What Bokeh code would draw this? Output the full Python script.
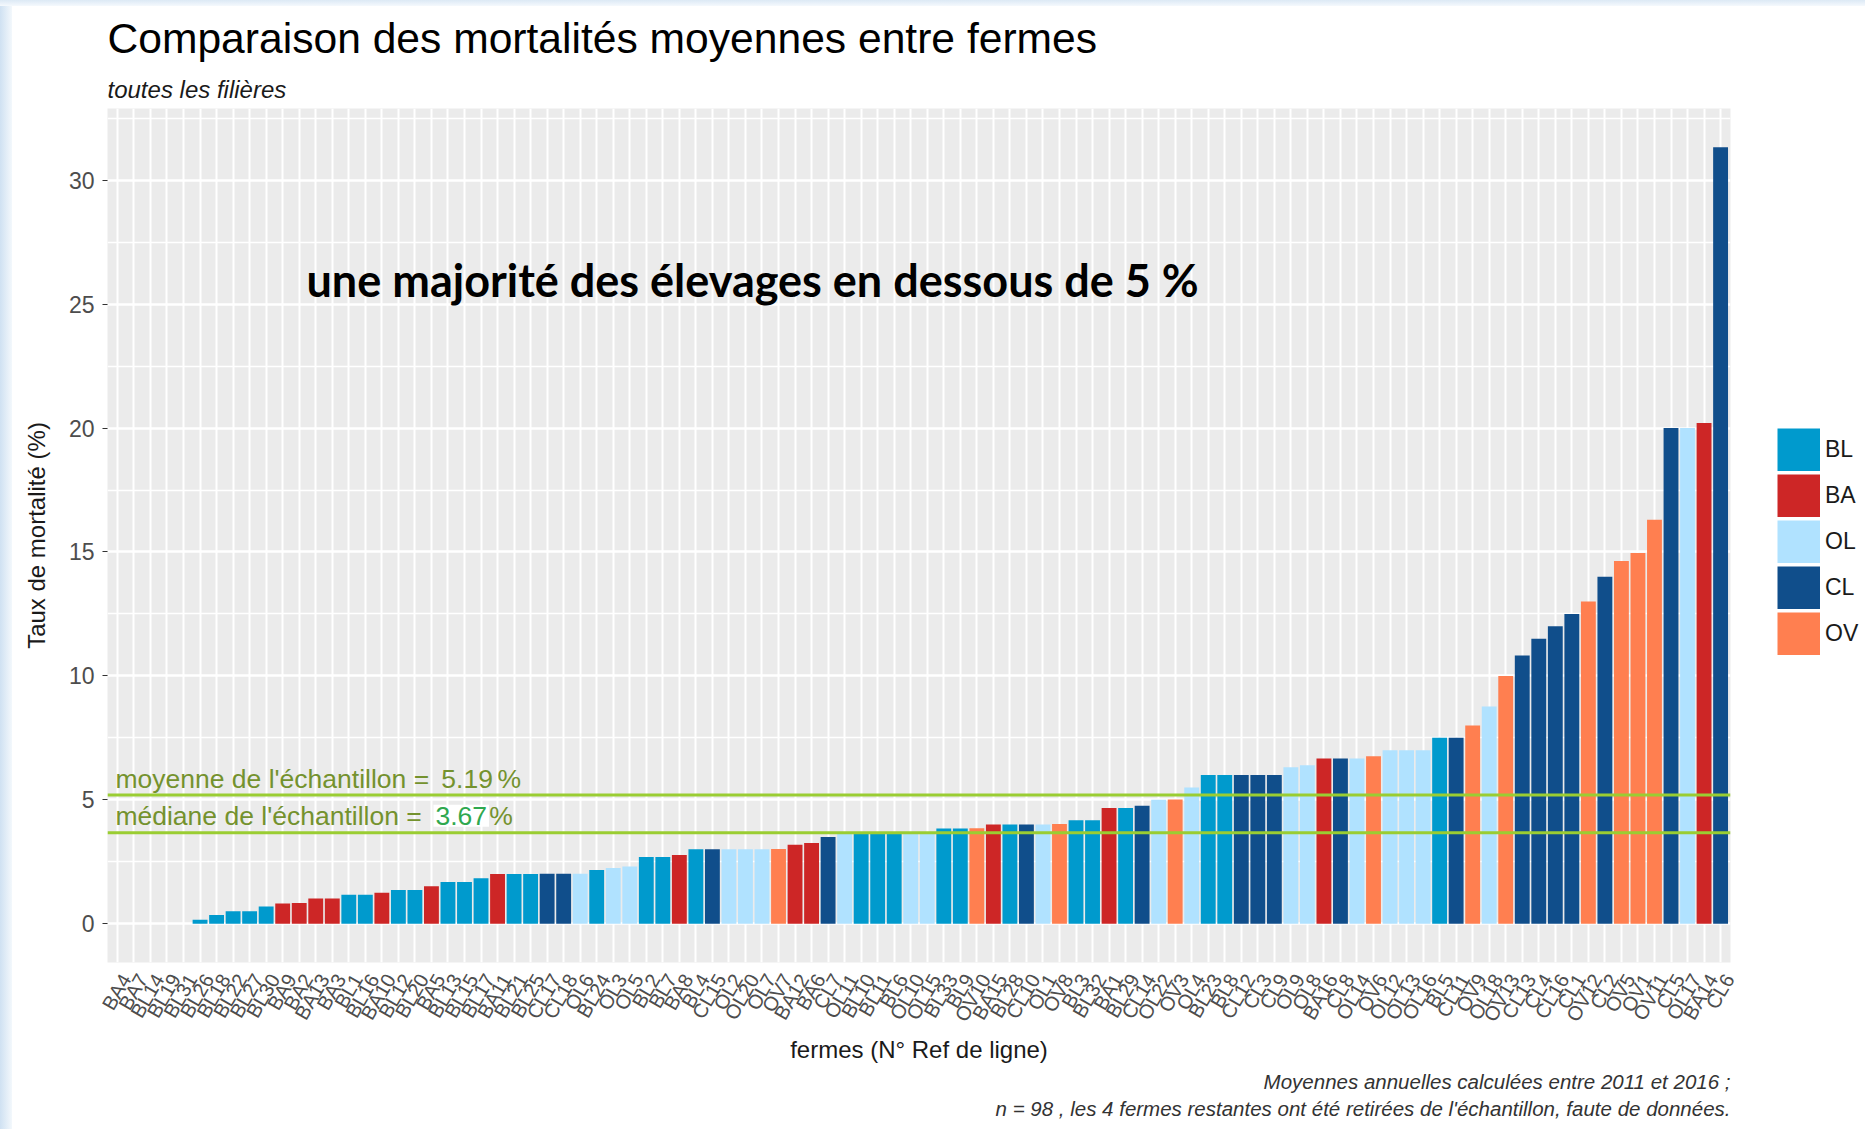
import math
from bokeh.plotting import figure
from bokeh.layouts import row, column
from bokeh.models import (Range1d, FixedTicker, Span, Label, Legend, LegendItem, Title, Spacer)
from bokeh.embed import file_html
from bokeh.resources import INLINE

# ---------------- data ----------------
fermes = [
    "BA4", "BA7", "BL14", "BL19", "BL31", "BL26", "BL18", "BL22", "BL27", "BL30",
    "BA9", "BA2", "BA13", "BA3", "BL1", "BL16", "BA10", "BL12", "BL20", "BA5",
    "BL13", "BL15", "BL17", "BA11", "BL21", "BL25", "CL17", "CL18", "OL6", "BL24",
    "OL3", "OL5", "BL2", "BL7", "BA8", "BL4", "CL15", "OL2", "OL20", "OL7",
    "OV7", "BA12", "BA6", "CL7", "OL11", "BL10", "BL11", "BL6", "OL10", "OL15",
    "BL33", "BL9", "OV10", "BA15", "BL28", "CL10", "OL1", "OV8", "BL3", "BL32",
    "BA1", "BL29", "CL14", "OL22", "OV3", "OL4", "BL23", "BL8", "CL12", "CL3",
    "CL9", "OL9", "OL8", "BA16", "CL8", "OL14", "OV6", "OL12", "OL13", "OL16",
    "BL5", "CL11", "OV9", "OL18", "OV13", "CL13", "CL4", "CL16", "CL1", "OV12",
    "CL2", "OV5", "OV1", "OV11", "CL5", "OL17", "BA14", "CL6",
]
mortalite = [
    0.00, 0.00, 0.00, 0.00, 0.00, 0.16, 0.35, 0.50, 0.50, 0.69,
    0.81, 0.83, 1.02, 1.02, 1.17, 1.17, 1.25, 1.36, 1.36, 1.51,
    1.68, 1.68, 1.83, 2.00, 2.00, 2.00, 2.01, 2.02, 2.02, 2.17,
    2.25, 2.31, 2.69, 2.69, 2.77, 3.00, 3.00, 3.00, 3.00, 3.00,
    3.01, 3.19, 3.26, 3.50, 3.63, 3.67, 3.67, 3.67, 3.67, 3.67,
    3.84, 3.84, 3.85, 4.00, 4.00, 4.00, 4.00, 4.02, 4.17, 4.17,
    4.67, 4.67, 4.76, 5.00, 5.01, 5.50, 6.00, 6.00, 6.00, 6.00,
    6.00, 6.31, 6.39, 6.67, 6.67, 6.67, 6.76, 7.00, 7.00, 7.00,
    7.50, 7.50, 8.00, 8.76, 10.00, 10.82, 11.50, 12.00, 12.50, 13.00,
    14.00, 14.64, 14.96, 16.30, 20.00, 20.00, 20.20, 31.33,
]
filieres_legende = ["BL", "BA", "OL", "CL", "OV"]
couleurs = ["#009ACD", "#CD2626", "#B0E2FF", "#104E8B", "#FF7F50"]
y_ticks = [0, 5, 10, 15, 20, 25, 30]
y_minor = [2.5, 7.5, 12.5, 17.5, 22.5, 27.5, 32.5]
MOYENNE = 5.19
MEDIANE = 3.67

FONT = "Liberation Sans"

idx = list(range(1, len(fermes) + 1))
filiere = [f[:2] for f in fermes]
ymax = max(mortalite)
n = len(fermes)

BAND = 12          # light-blue slide edge on the left
TOPBAND = 6        # light-blue slide edge on top
W_MAIN, W_LEG, H = 1748, 105, 1123
LABEL_SHIFT = 0.52  # ggplot hjust=1/vjust=1 anchoring of the rotated tick labels

p = figure(
    width=W_MAIN, height=H, output_backend="svg", toolbar_location=None,
    x_range=Range1d(0.4, n + 0.6),
    y_range=Range1d(-0.05 * ymax, 1.05 * ymax),
    min_border_left=95, min_border_top=101, min_border_right=30, min_border_bottom=167,
    background_fill_color="#EBEBEB", border_fill_color="white", title=None,
)
p.outline_line_color = None

# ---------------- grid / axes ----------------
xt_grid = FixedTicker(ticks=idx)
xt_lab = FixedTicker(ticks=[i + LABEL_SHIFT for i in idx])
yt = FixedTicker(ticks=y_ticks, minor_ticks=y_minor)
p.xaxis.ticker = xt_lab
p.yaxis.ticker = yt
p.xgrid.ticker = xt_grid
p.ygrid.ticker = yt
p.xgrid.grid_line_color = "white"
p.xgrid.grid_line_width = 2
p.ygrid.grid_line_color = "white"
p.ygrid.grid_line_width = 2.5
p.ygrid.minor_grid_line_color = "white"
p.ygrid.minor_grid_line_width = 1.4

p.xaxis.major_label_overrides = {i + LABEL_SHIFT: f for i, f in zip(idx, fermes)}
p.xaxis.major_label_orientation = math.pi / 3

for ax in (p.xaxis, p.yaxis):
    ax.axis_line_color = None
    ax.major_tick_line_color = "#333333"
    ax.major_tick_out = 5
    ax.major_tick_in = 0
    ax.minor_tick_line_color = None
    ax.major_label_text_font = FONT
    ax.major_label_text_color = "#4D4D4D"
    ax.axis_label_text_font = FONT
    ax.axis_label_text_font_style = "normal"
    ax.axis_label_text_font_size = "24px"
    ax.axis_label_text_color = "#1A1A1A"

p.xaxis.major_tick_line_color = None
p.xaxis.major_tick_out = 0
p.xaxis.major_label_standoff = 13
p.xaxis.major_label_text_font_size = "20px"
p.yaxis.major_label_text_font_size = "23px"
p.yaxis.major_label_standoff = 8
p.xaxis.axis_label = "fermes (N° Ref de ligne)"
p.yaxis.axis_label = "Taux de mortalité (%)"
p.xaxis.axis_label_standoff = 2
p.yaxis.axis_label_standoff = 16

# ---------------- bars ----------------
for code, col in zip(filieres_legende, couleurs):
    xs = [i for i, f in zip(idx, filiere) if f == code]
    tops = [v for v, f in zip(mortalite, filiere) if f == code]
    p.vbar(x=xs, top=tops, bottom=0, width=0.9, fill_color=col, line_color=None)

# ---------------- mean / median ----------------
for val in (MOYENNE, MEDIANE):
    p.add_layout(Span(location=val, dimension="width", line_color="#9ACD32", line_width=3))

olive = "#74922E"
TS = "26.5px"
def note(x, y, txt, color=olive, **kw):
    p.add_layout(Label(x=x, y=y, text=txt, text_font=FONT, text_font_size=TS,
                       text_color=color, text_baseline="alphabetic", **kw))

note(0.88, MOYENNE + 0.66, "moyenne de l'échantillon = ")
note(20.6, MOYENNE + 0.66, "5.19")
note(24.0, MOYENNE + 0.66, "%")
note(0.88, MEDIANE + 0.69, "médiane de l'échantillon = ")
note(20.12, MEDIANE + 0.69, "3.67", color="#2FA84F", background_fill_color="white", padding=2)
note(23.5, MEDIANE + 0.69, "%")

p.add_layout(Label(x=12.44, y=25.97, text="une majorité des élevages en dessous de 5 %",
                   text_font="Lato", text_font_style="bold", text_font_size="45px",
                   text_color="black", text_baseline="alphabetic"))

# ---------------- titles / caption ----------------
p.add_layout(Title(text="toutes les filières", text_font=FONT, text_font_style="italic",
                   text_font_size="24px", text_color="#1A1A1A", standoff=12), "above")
p.add_layout(Title(text="Comparaison des mortalités moyennes entre fermes", text_font=FONT,
                   text_font_style="normal", text_font_size="42.6px", text_color="black",
                   standoff=11), "above")
p.add_layout(Title(text="Moyennes annuelles calculées entre 2011 et 2016 ;", align="right",
                   text_font=FONT, text_font_style="italic", text_font_size="20.5px",
                   text_color="#333333", standoff=4), "below")
p.add_layout(Title(text="n = 98 , les 4 fermes restantes ont été retirées de l'échantillon, faute de données.",
                   align="right", text_font=FONT, text_font_style="italic", text_font_size="20.5px",
                   text_color="#333333", standoff=0), "below")

# ---------------- legend (own narrow figure on the right) ----------------
pl = figure(width=W_LEG, height=H, output_backend="svg", toolbar_location=None,
            x_range=Range1d(0, 1), y_range=Range1d(0, 1), min_border=0,
            x_axis_type=None, y_axis_type=None, title=None,
            background_fill_color="white", border_fill_color="white")
pl.outline_line_color = None
pl.xgrid.visible = False
pl.ygrid.visible = False
items = []
for code, col in zip(filieres_legende, couleurs):
    # key renderer lies outside the visible range: only its legend swatch shows
    key = pl.line(x=[5, 6], y=[5, 5], line_color=col, line_width=43, line_cap="butt")
    items.append(LegendItem(label=code, renderers=[key]))
legend = Legend(
    items=items, location=(17, 307), orientation="vertical",
    glyph_width=43, glyph_height=43, spacing=3, label_standoff=5,
    padding=0, margin=0, border_line_color=None, background_fill_alpha=0,
    label_text_font=FONT, label_text_font_size="23px", label_text_color="#1A1A1A",
)
pl.add_layout(legend, "center")

left_band = Spacer(width=BAND, height=H,
                   styles={"background": "linear-gradient(to right, #CFE1F2, #F3F8FC)"})
top_band = Spacer(width=BAND + W_MAIN + W_LEG, height=TOPBAND,
                  styles={"background": "linear-gradient(to bottom, #DCE9F5, #F5F9FD)"})

layout = column(top_band, row(left_band, p, pl))
open("out.html", "w").write(file_html(layout, INLINE))
